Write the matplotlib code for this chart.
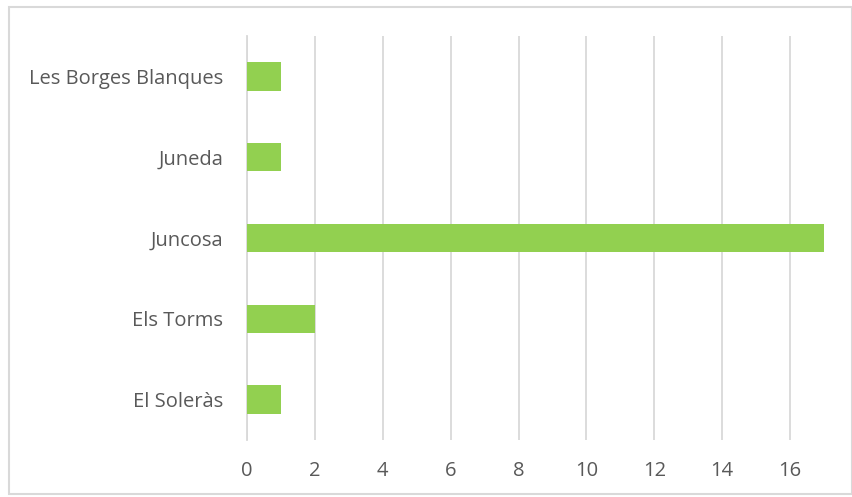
import matplotlib.pyplot as plt
from matplotlib.patches import Rectangle

plt.rcParams['font.family'] = ['Open Sans', 'DejaVu Sans']

categories = ['El Soleràs', 'Els Torms', 'Juncosa', 'Juneda', 'Les Borges Blanques']
values = [1, 2, 17, 1, 1]
xticks = [0, 2, 4, 6, 8, 10, 12, 14, 16]

fig = plt.figure(figsize=(8.53, 4.97), dpi=100)
ax = fig.add_axes([247/853, 1-440/497, (824-247)/853, (440-36)/497])

ax.barh(range(len(categories)), values, height=0.35, color='#92D050', zorder=3)
ax.set_xlim(0, 17)
ax.set_ylim(-0.5, len(categories)-0.5)
ax.set_yticks(range(len(categories)))
ax.set_yticklabels(categories)
ax.set_xticks(xticks)
ax.grid(axis='x', color='#d9d9d9', linewidth=1.3, zorder=0)
for s in ['top', 'right', 'bottom']:
    ax.spines[s].set_visible(False)
ax.spines['left'].set_color('#d9d9d9')
ax.spines['left'].set_linewidth(1.3)
ax.tick_params(length=0, colors='#595959', labelsize=14.5)
ax.tick_params(axis='y', pad=17)
ax.tick_params(axis='x', pad=15)

fig.patches.append(Rectangle((9/853, 3/497), 843/853, 487/497, transform=fig.transFigure,
                             fill=False, edgecolor='#d9d9d9', linewidth=1.5))

fig.savefig('out.png', dpi=100)
